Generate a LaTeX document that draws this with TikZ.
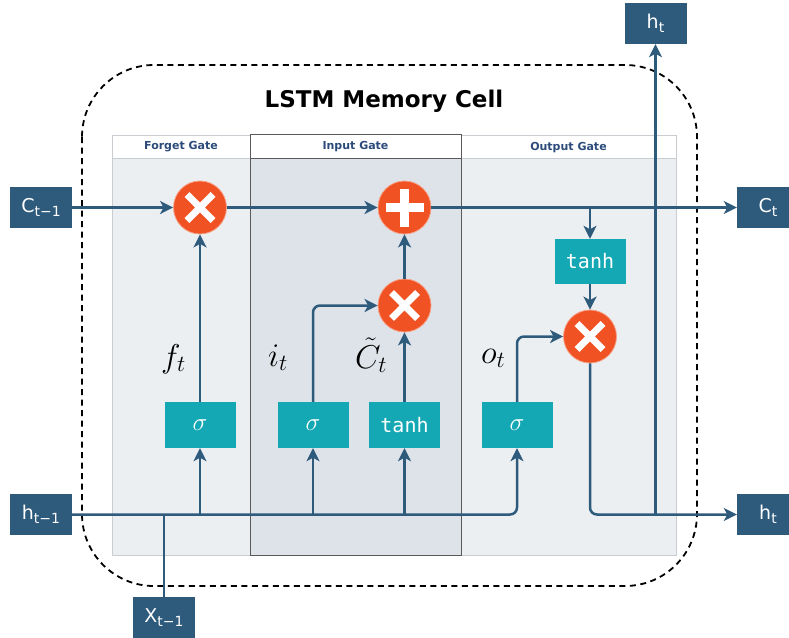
\RequirePackage{fix-cm}
\documentclass[tikz,border=0pt]{standalone}
\usepackage{fontspec}
\usetikzlibrary{arrows.meta}
\newfontfamily\boxfont{DejaVu Sans}
\newfontfamily\codefont{DejaVu Sans Mono}
\newfontfamily\headfont{DejaVu Sans}

\definecolor{cellblue}{HTML}{2E5A7C}
\definecolor{gateteal}{HTML}{14A7B4}
\definecolor{oporange}{HTML}{F05223}
\definecolor{panelfill}{HTML}{ECEFF2}
\definecolor{panelmid}{HTML}{DDE3E9}
\definecolor{panelline}{HTML}{C9CCD0}
\definecolor{headblue}{HTML}{2C4B7B}

% subscript for the sans labels in the state boxes
\newcommand{\boxsub}[1]{\raisebox{-4.5pt}{\fontsize{14}{14}\selectfont #1}}

\begin{document}
\begin{tikzpicture}[x=1pt,y=-1pt,
  statebox/.style={fill=cellblue, text=white, minimum width=62pt, minimum height=41pt,
    inner sep=0pt, font=\boxfont\fontsize{19}{19}\selectfont},
  gatebox/.style={fill=gateteal, text=white, minimum width=71pt, minimum height=46pt,
    inner sep=0pt},
  opnode/.style={circle, fill=oporange, draw=oporange!55!white, line width=0.8pt,
    minimum size=53pt, inner sep=0pt},
  mulop/.style={opnode, path picture={
    \draw[white, line width=7pt]
      ([shift={(-13pt,-13pt)}]path picture bounding box.center) -- ([shift={(13pt,13pt)}]path picture bounding box.center)
      ([shift={(-13pt,13pt)}]path picture bounding box.center) -- ([shift={(13pt,-13pt)}]path picture bounding box.center);}},
  addop/.style={opnode, path picture={
    \draw[white, line width=9pt]
      ([shift={(-19pt,0pt)}]path picture bounding box.center) -- ([shift={(19pt,0pt)}]path picture bounding box.center)
      ([shift={(0pt,-19pt)}]path picture bounding box.center) -- ([shift={(0pt,19pt)}]path picture bounding box.center);}},
  wire/.style={draw=cellblue, line width=2.5pt},
  flow/.style={wire, -{Stealth[length=13pt, width=13pt, inset=3.5pt]}},
  mathlabel/.style={anchor=base west, inner sep=0pt, font=\fontsize{33}{38}\selectfont},
  sigmafont/.style={font=\fontsize{25}{28}\selectfont},
  gatehead/.style={font=\headfont\bfseries\fontsize{11}{13}\selectfont, text=headblue},
]
\useasboundingbox (0,0) rectangle (789,637);

% cell outline
\draw[black, line width=1.8pt, dash pattern=on 6pt off 4.5pt, rounded corners=72pt]
  (82,65) rectangle (697,586);
\node[font=\boxfont\bfseries\fontsize{23}{26}\selectfont] (title) at (384,101) {LSTM Memory Cell};

% gate panels
\filldraw[fill=panelfill, draw=panelline, line width=1pt] (112,135) rectangle (250,555);
\filldraw[fill=white, draw=panelline, line width=1pt] (112,135) rectangle (250,158);
\filldraw[fill=panelfill, draw=panelline, line width=1pt] (461,135) rectangle (676,555);
\filldraw[fill=white, draw=panelline, line width=1pt] (461,135) rectangle (676,158);
\filldraw[fill=panelmid, draw=black!65, line width=1pt] (250,134) rectangle (461,555);
\filldraw[fill=white, draw=black!65, line width=1pt] (250,134) rectangle (461,158);
\node[gatehead] (fhead) at (181,147) {Forget Gate};
\node[gatehead] (ihead) at (355.5,147) {Input Gate};
\node[gatehead] (ohead) at (568.5,148) {Output Gate};

% inputs and outputs
\node[statebox] (cprev) at (41,207.5) {C\boxsub{t−1}};
\node[statebox] (hprev) at (41,514.5) {h\boxsub{t−1}};
\node[statebox] (xprev) at (164,617.5) {X\boxsub{t−1}};
\node[statebox] (htop) at (655.5,23.5) {h\boxsub{t}};
\node[statebox] (cnext) at (768,207.5) {C\boxsub{t}\hspace{5pt}};
\node[statebox] (hnext) at (768,514.5) {h\boxsub{t}\hspace{5pt}};

% pointwise operations
\node[mulop] (fx) at (200,207.5) {};
\node[addop] (plus) at (404.5,207.5) {};
\node[mulop] (ix) at (404.5,305.5) {};
\node[mulop] (ox) at (590,336.5) {};

% layers
\node[gatebox, sigmafont] (fsig) at (200,425) {$\sigma$};
\node[gatebox, sigmafont] (isig) at (313,425) {$\sigma$};
\node[gatebox, font=\codefont\fontsize{20}{24}\selectfont] (itanh) at (404.5,425) {tanh};
\node[gatebox, sigmafont] (osig) at (517,425) {$\sigma$};
\node[gatebox, font=\codefont\fontsize{20}{24}\selectfont, minimum height=45pt] (otanh) at (590,261.5) {tanh};

% gate activations
\node[mathlabel] (flab) at (161,367) {$f_t$};
\node[mathlabel] (ilab) at (268,366) {$i_t$};
\node[mathlabel] (clab) at (355,368) {$\tilde{C}_t$};
\node[mathlabel] (olab) at (481,363) {$o_t$};

% junction points
\coordinate (csplit) at (otanh |- cprev);
\coordinate (hsplit) at (htop |- hnext);
\coordinate (fjoin) at (fsig |- hprev);
\coordinate (ijoin) at (isig |- hprev);
\coordinate (tjoin) at (itanh |- hprev);
\coordinate (xjoin) at (xprev |- hprev);

% cell state path
\draw[flow] (cprev) -- (fx);
\draw[flow] (fx) -- (plus);
\draw[flow] (plus) -- (cnext);
\draw[flow] (csplit) -- (otanh);
\draw[flow] (otanh) -- (ox);

% gate paths
\draw[flow] (fsig) -- (fx);
\draw[flow, rounded corners=7pt] (isig) |- (ix);
\draw[flow] (itanh) -- (ix);
\draw[flow] (ix) -- (plus);
\draw[flow, rounded corners=7pt] (osig) |- (ox);

% hidden state in and out
\draw[flow, rounded corners=7pt] (hprev) -| (osig);
\draw[wire] (xprev) -- (xjoin);
\draw[flow] (fjoin) -- (fsig);
\draw[flow] (ijoin) -- (isig);
\draw[flow] (tjoin) -- (itanh);
\draw[flow, rounded corners=7pt] (ox) |- (hnext);
\draw[flow] (hsplit) -- (htop);
\end{tikzpicture}
\end{document}
